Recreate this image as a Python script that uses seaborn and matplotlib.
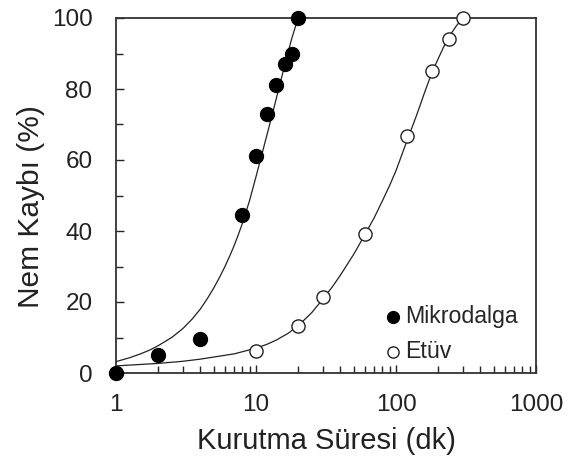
import numpy as np
import pandas as pd
import seaborn as sns
import matplotlib
matplotlib.use("Agg")
import matplotlib.pyplot as plt
from matplotlib.ticker import MultipleLocator, LogLocator, NullFormatter, FixedLocator, FixedFormatter

# measured points
mikro_t = [1, 2, 4, 8, 10, 12, 14, 16, 18, 20]
mikro_y = [0, 5, 9.5, 44.5, 61, 73, 81, 87, 90, 100]
etuv_t = [1, 10, 20, 30, 60, 120, 180, 240, 300]
etuv_y = [0, 6.3, 13.2, 21.3, 39.2, 66.8, 85.2, 94, 100]

# fitted curves
mikro_fit_t = [1, 1.25, 1.5, 1.75, 2, 2.5, 3, 3.5, 4, 4.5, 5, 5.5, 6, 6.5, 7, 7.5,
               8, 9, 10, 11, 12, 13, 14, 15, 16, 17, 18, 19, 20]
mikro_fit_y = [3.2, 4.3, 5.4, 6.5, 7.7, 10.0, 12.5, 15.2, 18.0, 21.0, 24.0, 27.0,
               30.0, 33.0, 36.0, 39.1, 42.2, 48.6, 55.3, 61.5, 67.2, 72.5, 77.5,
               82.2, 86.5, 90.5, 94.2, 97.2, 100]
etuv_fit_t = [1, 2, 3, 4, 5, 7, 10, 12, 14, 17, 20, 25, 30, 35, 40, 50, 60, 70, 80,
              90, 100, 120, 140, 160, 180, 200, 220, 240, 270, 300]
etuv_fit_y = [2.0, 2.7, 3.3, 3.9, 4.5, 5.4, 7.0, 8.1, 9.3, 11.2, 13.3, 17, 20.8,
              24.2, 27.5, 33.5, 39, 43.8, 48.5, 52.8, 57, 65.5, 72.5, 79, 84.5, 88.5,
              92, 94.8, 97.8, 100]

sns.set_theme(style="ticks")
plt.rcParams['font.family'] = ['Liberation Sans', 'DejaVu Sans']

fig = plt.figure(figsize=(5.82, 4.62), dpi=100)
ax = fig.add_axes([116 / 582, 1 - 373 / 462, 420 / 582, 355 / 462])

pts = pd.concat([
    pd.DataFrame({'t': mikro_t, 'y': mikro_y, 'grup': 'Mikrodalga'}),
    pd.DataFrame({'t': etuv_t, 'y': etuv_y, 'grup': 'Etüv'}),
])
fits = pd.concat([
    pd.DataFrame({'t': mikro_fit_t, 'y': mikro_fit_y, 'grup': 'Mikrodalga'}),
    pd.DataFrame({'t': etuv_fit_t, 'y': etuv_fit_y, 'grup': 'Etüv'}),
])

for g, d in fits.groupby('grup'):
    sns.lineplot(data=d, x='t', y='y', color='#222222', lw=0.9, ax=ax,
                 legend=False, zorder=2)

e = pts[pts['grup'] == 'Etüv']
m = pts[pts['grup'] == 'Mikrodalga']
ax.scatter(e['t'], e['y'], s=90, facecolor='white', edgecolor='#222222',
           linewidth=1.0, zorder=3, label='Etüv', clip_on=False)
ax.scatter(m['t'], m['y'], s=100, facecolor='black', edgecolor='black',
           zorder=4, label='Mikrodalga', clip_on=False)

ax.set_xscale('log')
ax.set_xlim(1, 1000)
ax.set_ylim(0, 100)
ax.xaxis.set_major_locator(FixedLocator([1, 10, 100, 1000]))
ax.xaxis.set_major_formatter(FixedFormatter(['1', '10', '100', '1000']))
ax.xaxis.set_minor_locator(LogLocator(base=10, subs=np.arange(2, 10)))
ax.xaxis.set_minor_formatter(NullFormatter())
ax.yaxis.set_major_locator(MultipleLocator(20))
ax.yaxis.set_minor_locator(MultipleLocator(10))

ax.tick_params(which='both', direction='in', labelsize=17.5, colors='#222222',
               width=1.0, top=False, right=False)
ax.tick_params(which='major', length=6)
ax.tick_params(which='minor', length=5)
ax.tick_params(axis='y', pad=17)
ax.tick_params(axis='x', pad=15)

for s in ax.spines.values():
    s.set_visible(True)
    s.set_linewidth(1.3)
    s.set_color('#333333')

ax.set_xlabel('Kurutma Süresi (dk)', fontsize=21, color='#222222', labelpad=8)
ax.set_ylabel('Nem Kaybı (%)', fontsize=21.5, color='#222222')
ax.yaxis.set_label_coords(-0.169, 0.47)

h, l = ax.get_legend_handles_labels()
ax.legend([h[1], h[0]], [l[1], l[0]], loc='lower left', frameon=False,
          fontsize=16.7, handlelength=0.8, handletextpad=0.13, borderpad=0,
          borderaxespad=0, labelspacing=0.55, markerscale=0.85,
          bbox_to_anchor=(0.638, 0.027))

fig.savefig('out.png', dpi=100)
